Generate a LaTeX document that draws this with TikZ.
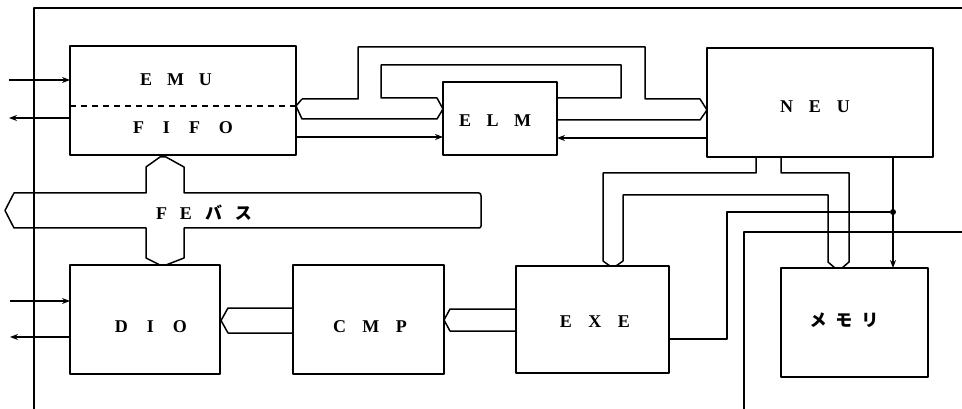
\documentclass[tikz,border=0pt]{standalone}
\usepackage{fontspec}
\setmainfont{Liberation Serif}
\newfontfamily\jpfont{Noto Sans CJK JP}
\usetikzlibrary{arrows.meta}
\begin{document}
\begin{tikzpicture}[x=1pt,y=-1pt,
  line join=round,
  box/.style={draw, line width=1.5pt, inner sep=0pt, outer sep=0pt},
  lbl/.style={font=\fontsize{18}{20}\selectfont\bfseries, inner sep=0pt},
  bus/.style={draw, line width=1.5pt, line join=round},
  arr/.style={-{Stealth[length=8pt,width=6pt]}, line width=1.3pt},
  wire/.style={line width=1.5pt}]
\useasboundingbox (0,0) rectangle (962,409);

% y levels
\coordinate (y80) at (0,80);
\coordinate (y106) at (0,106);
\coordinate (y118) at (0,118);
\coordinate (y137) at (0,137);
\coordinate (y138) at (0,138);
\coordinate (y301) at (0,301);
\coordinate (y337) at (0,337);
\coordinate (y339) at (0,339);
\coordinate (x893) at (893,0);

% frame
\coordinate (fBL) at (34,409);
\coordinate (fTR) at (962,8);
\draw[wire] (fBL) -- (34,8) -- (fTR);

% boxes
\node[box, minimum width=226pt, minimum height=109pt] (EMU) at (183,100.5) {};
\node[box, minimum width=114pt, minimum height=73pt] (ELM) at (500,118.5) {};
\node[box, minimum width=226pt, minimum height=109pt] (NEU) at (820,102.5) {};
\node[box, minimum width=150pt, minimum height=109pt] (DIO) at (145,319.5) {};
\node[box, minimum width=151pt, minimum height=109pt] (CMP) at (368.5,319.5) {};
\node[box, minimum width=153pt, minimum height=107pt] (EXE) at (592.5,319.5) {};
\node[box, minimum width=147pt, minimum height=109pt] (MEM) at (854.5,322.5) {};

% labels
\node[lbl] (tEMU) at (176,80) {E\hspace{15pt}M\hspace{15pt}U};
\node[lbl] (tFIFO) at (183,128) {F\hspace{19pt}I\hspace{19pt}F\hspace{19pt}O};
\node[lbl] (tELM) at (495,121) {E\hspace{15.5pt}L\hspace{15.5pt}M};
\node[lbl] (tNEU) at (815,107) {N\hspace{16pt}E\hspace{16pt}U};
\node[lbl] (tFE) at (204,213) {F\hspace{13pt}E\hspace{13pt}{\jpfont\fontsize{17}{19}\selectfont バ}\hspace{13pt}{\jpfont\fontsize{17}{19}\selectfont ス}};
\node[lbl] (tDIO) at (151,327) {D\hspace{19pt}I\hspace{19pt}O};
\node[lbl] (tCMP) at (370,327) {C\hspace{16.5pt}M\hspace{16.5pt}P};
\node[lbl] (tEXE) at (595,322) {E\hspace{16.5pt}X\hspace{16.5pt}E};
\node[lbl] (tMEM) at (844,320) {{\jpfont\fontsize{17}{19}\selectfont メ}\hspace{9pt}{\jpfont\fontsize{17}{19}\selectfont モ}\hspace{9pt}{\jpfont\fontsize{17}{19}\selectfont リ}};

% dashed divider in EMU
\draw[line width=1.2pt, dash pattern=on 6pt off 5pt] (EMU.west |- y106) -- (EMU.east |- y106);

% external arrows
\coordinate (inE) at (9,80);
\coordinate (outE) at (9,118);
\coordinate (inD) at (10,301);
\coordinate (outD) at (10,337);
\draw[arr] (inE) -- (EMU.west |- y80);
\draw[arr] (EMU.west |- y118) -- (outE);
\draw[arr] (inD) -- (DIO.west |- y301);
\draw[arr] (DIO.west |- y337) -- (outD);

% EMU -> ELM / NEU bus
\draw[bus] (302,99) -- (296,106) -- (302,119) -- (437,119) -- (443,109) -- (437,98)
  -- (381,98) -- (381,65) -- (621,65) -- (621,98) -- (557,98);
\draw[bus] (302,99) -- (358,99) -- (358,47) -- (645,47) -- (645,99) -- (700,99)
  -- (707,110) -- (700,120) -- (557,120);

% ELM arrows
\draw[arr] (EMU.east |- y137) -- (ELM.west |- y137);
\draw[arr] (NEU.west |- y138) -- (ELM.east |- y138);

% FE bus
\draw[bus] (14,193) -- (146,193) -- (146,167) -- (160,157) -- (166,157) -- (184,167)
  -- (184,193) -- (479,193) to[out=0,in=90] (481,196) -- (481,226) to[out=-90,in=0] (479,228)
  -- (184,228) -- (184,258) -- (166,265) -- (160,265) -- (146,258) -- (146,228)
  -- (14,228) -- (5,210.5) -- cycle;

% CMP -> DIO bus
\draw[bus] (293,308) -- (228,308) -- (221,320.5) -- (228,333) -- (293,333);
% EXE -> CMP bus
\draw[bus] (516,309) -- (450,309) -- (444,320) -- (450,331) -- (516,331);

% NEU bottom bus to EXE and memory
\draw[bus] (756,157) -- (756,173) -- (603,173) -- (603,261) -- (610,266) -- (616,266) -- (623,261)
  -- (623,195) -- (828,195) -- (828,262) -- (835,268) -- (842,268) -- (849,262) -- (849,173)
  -- (781,173) -- (781,157);

% EXE -> junction
\node[circle, fill, inner sep=0pt, minimum size=6pt] (dot) at (893,212) {};
\draw[wire] (EXE.east |- y339) -- (727,339) -- (727,212) -- (dot);
% NEU -> memory
\draw[arr] (NEU.south -| x893) -- (MEM.north -| x893);

% line to right edge
\coordinate (rB) at (744,409);
\coordinate (rR) at (962,232);
\draw[wire] (rB) -- (744,232) -- (rR);
\end{tikzpicture}
\end{document}
